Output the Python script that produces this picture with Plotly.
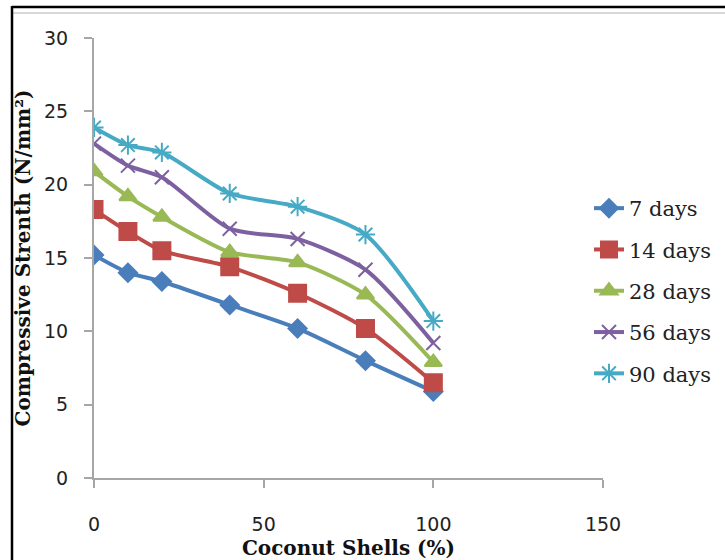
import plotly.graph_objects as go

x_vals = [0, 10, 20, 40, 60, 80, 100]
d7 = [15.2, 14.0, 13.4, 11.8, 10.2, 8.0, 5.9]
d14 = [18.3, 16.8, 15.5, 14.4, 12.6, 10.2, 6.5]
d28 = [20.9, 19.2, 17.8, 15.4, 14.7, 12.5, 7.9]
d56 = [22.8, 21.3, 20.5, 17.0, 16.3, 14.2, 9.2]
d90 = [23.9, 22.7, 22.2, 19.4, 18.5, 16.6, 10.7]
names = ["7 days", "14 days", "28 days", "56 days", "90 days"]
colors = ["#4A7EBB", "#BE4B48", "#98B954", "#7D60A0", "#46AAC5"]
symbols = ["diamond", "square", "triangle-up", "x-thin-open", "asterisk-open"]
sizes = [14, 17, 15, 14, 16]

W, H = 725, 560
L, R, T, B = 94, 122, 38, 82
pw, ph = W - L - R, H - T - B

def px(xp):
    return (xp - L) / pw

def py(yp):
    return (H - B - yp) / ph

fig = go.Figure()
for i, (nm, ys) in enumerate(zip(names, [d7, d14, d28, d56, d90])):
    fig.add_trace(go.Scatter(
        x=x_vals, y=ys, name=nm, mode="lines+markers",
        line=dict(color=colors[i], width=4, shape="spline", smoothing=0.7),
        marker=dict(symbol=symbols[i], size=sizes[i], color=colors[i],
                    line=dict(color=colors[i], width=2)),
        legendgroup=nm,
    ))

fig.update_layout(
    width=W, height=H,
    margin=dict(l=L, r=R, t=T, b=B, autoexpand=False),
    paper_bgcolor="white", plot_bgcolor="white",
    showlegend=True,
    legend=dict(x=px(589), y=py(188), xanchor="left", yanchor="top",
                font=dict(family="DejaVu Serif", size=21, color="#222"),
                tracegroupgap=11, bgcolor="rgba(0,0,0,0)"),
    xaxis=dict(range=[0, 150], tickvals=[0, 50, 100, 150], showgrid=False,
               zeroline=False, showline=True, linecolor="#A6A6A6", linewidth=2,
               ticks="outside", ticklen=8, tickcolor="#A6A6A6", tickwidth=2,
               ticklabelstandoff=20, automargin=False,
               tickfont=dict(family="DejaVu Sans", size=19, color="#222"),
               title=dict(text="<b>Coconut Shells (%)</b>", standoff=10,
                          font=dict(family="DejaVu Serif", size=20, color="#111"))),
    yaxis=dict(range=[0, 30], tickvals=[0, 5, 10, 15, 20, 25, 30], showgrid=False,
               zeroline=False, showline=True, linecolor="#A6A6A6", linewidth=2,
               ticks="outside", ticklen=8, tickcolor="#A6A6A6", tickwidth=2,
               ticklabelstandoff=12, automargin=False,
               tickfont=dict(family="DejaVu Sans", size=19, color="#222"),
               title=dict(text="<b>Compressive Strenth (N/mm²)</b>", standoff=8,
                          font=dict(family="DejaVu Serif", size=20, color="#111"))),
    shapes=[
        dict(type="line", xref="paper", yref="paper", x0=px(12), x1=px(730),
             y0=py(7), y1=py(7), line=dict(color="black", width=2.5)),
        dict(type="line", xref="paper", yref="paper", x0=px(12), x1=px(730),
             y0=py(13), y1=py(13), line=dict(color="#D8D8D8", width=2)),
        dict(type="line", xref="paper", yref="paper", x0=px(12), x1=px(12),
             y0=py(6), y1=py(565), line=dict(color="black", width=2.5)),
    ],
)

fig.write_html("out.html")
